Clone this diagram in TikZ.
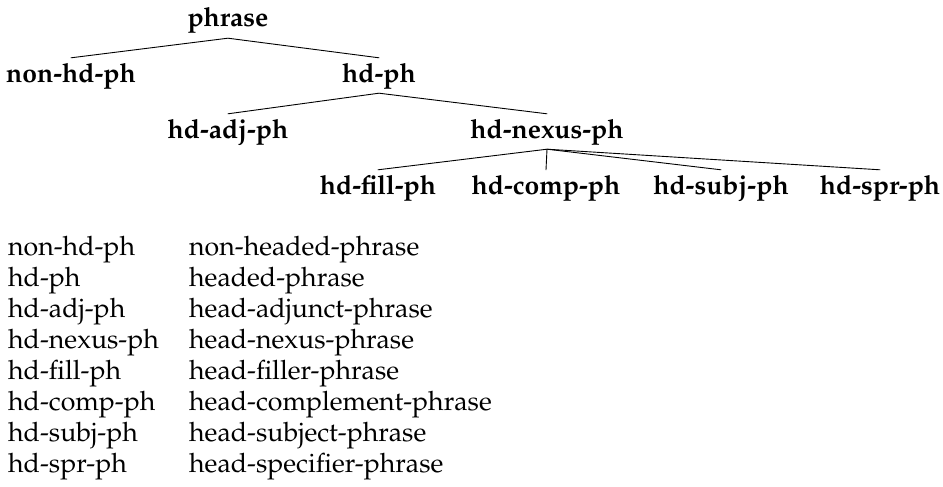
\documentclass[tikz,border=0pt]{standalone}
\usepackage[T1]{fontenc}
\usepackage{mathpazo}
\begin{document}
\begin{tikzpicture}[x=1pt,y=-1pt,
  typ/.style={font=\fontsize{26.5}{31}\selectfont\bfseries, anchor=base, inner xsep=0pt, inner ysep=4pt, text height=20pt, text depth=7pt},
  leg/.style={font=\fontsize{26.7}{31}\selectfont, anchor=base west, inner sep=0pt},
  edge/.style={line width=0.9pt, line cap=round}]
\useasboundingbox (0,0) rectangle (943,487);
% tree
\node[typ] (phrase) at (228,27) {phrase};
\node[typ] (nonhd) at (71,82) {non-hd-ph};
\node[typ] (hd) at (379,82) {hd-ph};
\node[typ] (adj) at (228,138) {hd-adj-ph};
\node[typ] (nexus) at (547,138) {hd-nexus-ph};
\node[typ] (fill) at (378,194) {hd-fill-ph};
\node[typ] (comp) at (546,194) {hd-comp-ph};
\node[typ] (subj) at (721,194) {hd-subj-ph};
\node[typ] (spr) at (880,194) {hd-spr-ph};
\draw[edge] (nonhd.north) -- (phrase.south) -- (hd.north);
\draw[edge] (adj.north) -- (hd.south) -- (nexus.north);
\draw[edge] (fill.north) -- (nexus.south) -- (comp.north);
\draw[edge] (nexus.south) -- (subj.north);
\draw[edge] (nexus.south) -- (spr.north);
% legend
\foreach \a/\b [count=\i from 0] in {non-hd-ph/non-headed-phrase, hd-ph/headed-phrase, hd-adj-ph/head-adjunct-phrase, hd-nexus-ph/head-nexus-phrase, hd-fill-ph/head-filler-phrase, hd-comp-ph/head-complement-phrase, hd-subj-ph/head-subject-phrase, hd-spr-ph/head-specifier-phrase}{
  \node[leg] (la\i) at (8,255+31.1*\i) {\a};
  \node[leg] (lb\i) at (189,255+31.1*\i) {\b};
}
\end{tikzpicture}
\end{document}
